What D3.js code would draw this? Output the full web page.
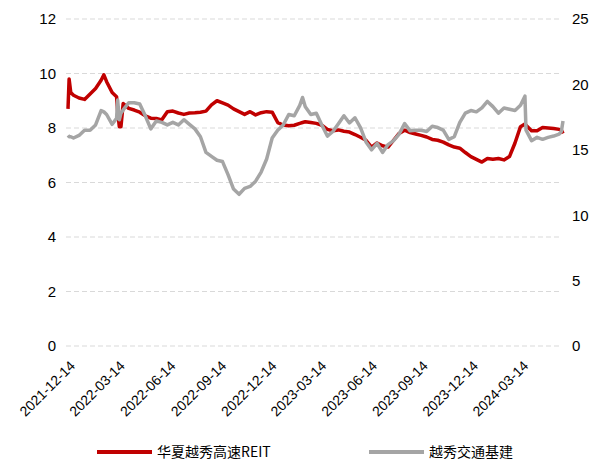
<!DOCTYPE html>
<html>
<head>
<meta charset="utf-8">
<script src="https://cdn.jsdelivr.net/npm/d3@7"></script>
<style>
  body { margin: 0; background: #fff; }
  svg { display: block; font-family: "Noto Sans CJK SC", "Liberation Sans", sans-serif; }
</style>
</head>
<body>
<svg id="chart" width="590" height="461"></svg>
<script>
// sample dates (roughly every 10 days, with a few extra points on spikes)
const dates = [
    '2021-12-14', '2021-12-16', '2021-12-19', '2021-12-24', '2022-01-03', '2022-01-13', '2022-01-23',
    '2022-02-02', '2022-02-12', '2022-02-17', '2022-02-22', '2022-03-04', '2022-03-12', '2022-03-14',
    '2022-03-17', '2022-03-20', '2022-03-24', '2022-04-03', '2022-04-13', '2022-04-23', '2022-05-03',
    '2022-05-13', '2022-05-23', '2022-06-02', '2022-06-12', '2022-06-22', '2022-07-02', '2022-07-12',
    '2022-07-22', '2022-08-01', '2022-08-11', '2022-08-21', '2022-08-31', '2022-09-10', '2022-09-20',
    '2022-09-30', '2022-10-10', '2022-10-20', '2022-10-30', '2022-11-09', '2022-11-19', '2022-11-29',
    '2022-12-09', '2022-12-19', '2022-12-29', '2023-01-08', '2023-01-18', '2023-01-28', '2023-02-07',
    '2023-02-12', '2023-02-17', '2023-02-27', '2023-03-09', '2023-03-19', '2023-03-29', '2023-04-08',
    '2023-04-18', '2023-04-28', '2023-05-08', '2023-05-18', '2023-05-28', '2023-06-07', '2023-06-17',
    '2023-06-27', '2023-07-07', '2023-07-17', '2023-07-27', '2023-08-06', '2023-08-16', '2023-08-26',
    '2023-09-05', '2023-09-15', '2023-09-25', '2023-10-05', '2023-10-15', '2023-10-25', '2023-11-04',
    '2023-11-14', '2023-11-24', '2023-12-04', '2023-12-14', '2023-12-24', '2024-01-03', '2024-01-13',
    '2024-01-23', '2024-02-02', '2024-02-12', '2024-02-22', '2024-03-03', '2024-03-13', '2024-03-21',
    '2024-03-23', '2024-04-02', '2024-04-12', '2024-04-22', '2024-05-02', '2024-05-12', '2024-05-22',
    '2024-05-26', '2024-05-29'
];

// 华夏越秀高速REIT (left axis)
const reitPrice = [
    8.70, 9.80, 9.30, 9.20, 9.10, 9.05, 9.25,
    9.45, 9.75, 9.95, 9.70, 9.30, 9.15, 8.60,
    8.05, 8.05, 8.90, 8.72, 8.66, 8.58, 8.45,
    8.36, 8.35, 8.30, 8.60, 8.62, 8.55, 8.50,
    8.55, 8.56, 8.58, 8.62, 8.85, 9.00, 8.92,
    8.84, 8.70, 8.60, 8.50, 8.60, 8.48, 8.56,
    8.60, 8.58, 8.20, 8.11, 8.08, 8.10, 8.17,
    8.20, 8.23, 8.20, 8.17, 8.10, 7.95, 7.90,
    7.93, 7.88, 7.85, 7.76, 7.66, 7.55, 7.30,
    7.45, 7.35, 7.30, 7.55, 7.80, 7.92, 7.83,
    7.78, 7.73, 7.67, 7.58, 7.55, 7.48, 7.38,
    7.30, 7.26, 7.10, 6.95, 6.85, 6.75, 6.88,
    6.85, 6.88, 6.83, 6.95, 7.45, 8.05, 8.15,
    8.10, 7.90, 7.90, 8.02, 8.00, 7.98, 7.95,
    7.93, 7.80
];

// 越秀交通基建 (right axis)
const infraPrice = [
    16.1, 16.0, 16.0, 15.9, 16.1, 16.5, 16.5,
    16.9, 18.0, 17.9, 17.7, 16.95, 17.4, 18.8,
    17.3, 17.8, 18.05, 18.6, 18.6, 18.5, 17.6,
    16.6, 17.2, 17.1, 16.9, 17.1, 16.9, 17.3,
    16.95, 16.6, 16.0, 14.8, 14.5, 14.2, 14.1,
    13.1, 12.0, 11.6, 12.05, 12.2, 12.6, 13.3,
    14.3, 15.9, 16.5, 16.9, 17.7, 17.6, 18.4,
    19.0, 18.3, 17.7, 17.8, 16.9, 16.05, 16.4,
    17.0, 17.6, 17.05, 17.45, 16.7, 15.6, 15.0,
    15.5, 14.8, 15.4, 15.7, 16.2, 17.0, 16.45,
    16.5, 16.5, 16.4, 16.8, 16.7, 16.5, 15.8,
    16.0, 17.1, 17.8, 18.0, 17.9, 18.2, 18.7,
    18.3, 17.8, 18.2, 18.1, 18.0, 18.4, 19.1,
    16.5, 15.7, 15.95, 15.8, 15.95, 16.05, 16.2,
    16.4, 17.2
];

const xTickLabels = ['2021-12-14', '2022-03-14', '2022-06-14', '2022-09-14', '2022-12-14',
    '2023-03-14', '2023-06-14', '2023-09-14', '2023-12-14', '2024-03-14'];
const leftTicks = [0, 2, 4, 6, 8, 10, 12];
const rightTicks = [0, 5, 10, 15, 20, 25];
const seriesNames = ['华夏越秀高速REIT', '越秀交通基建'];

const parse = d3.timeParse('%Y-%m-%d');
const svg = d3.select('#chart');

const x = d3.scaleTime()
    .domain([parse(dates[0]), parse(dates[dates.length - 1])])
    .range([68, 563]);
const yL = d3.scaleLinear().domain([0, 12]).range([346, 19]);
const yR = d3.scaleLinear().domain([0, 25]).range([346, 19]);

// grid
svg.append('g')
    .selectAll('line')
    .data(leftTicks)
    .enter()
    .append('line')
    .attr('x1', 66)
    .attr('x2', 561)
    .attr('y1', d => yL(d))
    .attr('y2', d => yL(d))
    .style('stroke', '#d9d9d9')
    .style('stroke-width', '1px')
    .style('stroke-dasharray', '5,3');

// left axis
const leftAxis = svg.append('g')
    .attr('transform', 'translate(60,0)')
    .call(d3.axisLeft(yL).tickValues(leftTicks).tickSize(0).tickPadding(4));
leftAxis.select('.domain').remove();
leftAxis.selectAll('text')
    .style('font-size', '15px')
    .style('fill', '#000');

// right axis
const rightAxis = svg.append('g')
    .attr('transform', 'translate(568,0)')
    .call(d3.axisRight(yR).tickValues(rightTicks).tickSize(0).tickPadding(4));
rightAxis.select('.domain').remove();
rightAxis.selectAll('text')
    .style('font-size', '15px')
    .style('fill', '#000');

// bottom axis with rotated labels
const bottomAxis = svg.append('g')
    .attr('transform', 'translate(0,350)')
    .call(d3.axisBottom(x).tickValues(xTickLabels.map(parse)).tickSize(0).tickFormat(d3.timeFormat('%Y-%m-%d')));
bottomAxis.select('.domain').remove();
bottomAxis.selectAll('text')
    .attr('dy', 0)
    .attr('y', 0)
    .attr('x', 0)
    .attr('transform', 'translate(5,14) rotate(-45)')
    .style('text-anchor', 'end')
    .style('dominant-baseline', 'middle')
    .style('font-size', '14px')
    .style('fill', '#000');

const lineL = d3.line()
    .x((d, i) => x(parse(dates[i])))
    .y(d => yL(d));
const lineR = d3.line()
    .x((d, i) => x(parse(dates[i])))
    .y(d => yR(d));

svg.append('path')
    .datum(reitPrice)
    .attr('d', lineL)
    .style('fill', 'none')
    .style('stroke', '#c00000')
    .style('stroke-width', '3.5px')
    .style('stroke-linejoin', 'round');

svg.append('path')
    .datum(infraPrice)
    .attr('d', lineR)
    .style('fill', 'none')
    .style('stroke', '#a5a5a5')
    .style('stroke-width', '3.5px')
    .style('stroke-linejoin', 'round');

// legend
const legend = svg.append('g')
    .selectAll('g')
    .data(seriesNames)
    .enter()
    .append('g')
    .attr('transform', (d, i) => 'translate(' + (i === 0 ? 97 : 369) + ',452)');

legend.append('line')
    .attr('x1', 0)
    .attr('x2', 55)
    .style('stroke', (d, i) => i === 0 ? '#c00000' : '#a5a5a5')
    .style('stroke-width', '4px');

legend.append('text')
    .attr('x', 60)
    .attr('dy', '0.35em')
    .text(d => d)
    .style('font-size', '14px')
    .style('fill', '#000');
</script>
</body>
</html>
